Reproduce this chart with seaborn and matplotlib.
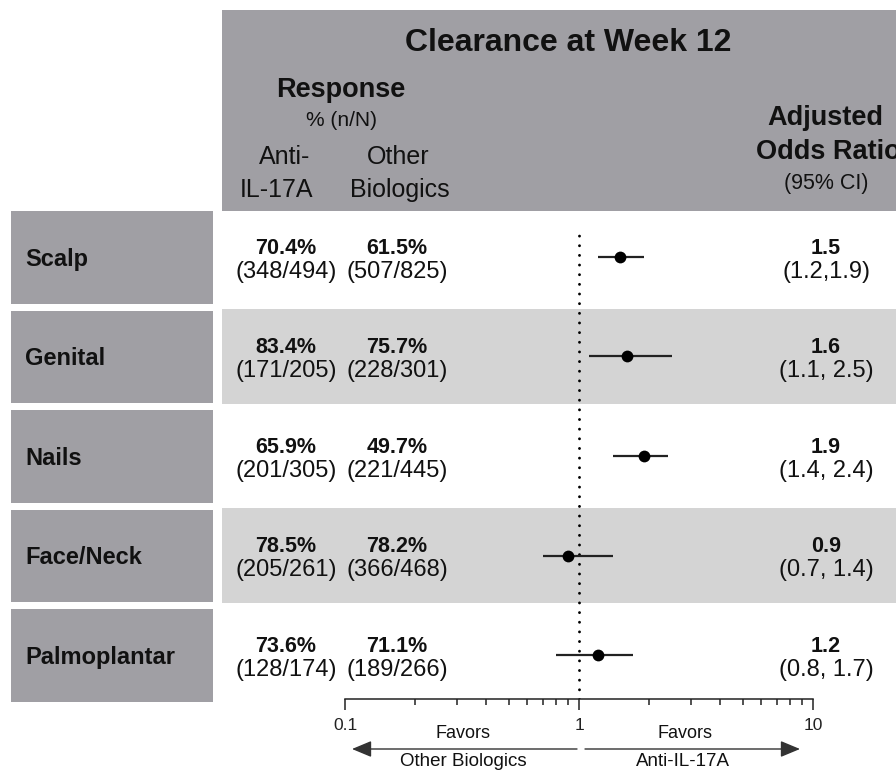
import numpy as np
import pandas as pd
import matplotlib
matplotlib.use("Agg")
import matplotlib.pyplot as plt
import matplotlib.transforms as mtransforms
from matplotlib.patches import Rectangle
from matplotlib.ticker import LogLocator, NullFormatter, FixedLocator, FixedFormatter
import seaborn as sns

# ---- data -------------------------------------------------------------
regions = ["Scalp", "Genital", "Nails", "Face/Neck", "Palmoplantar"]
anti_pct = [70.4, 83.4, 65.9, 78.5, 73.6]
anti_n = [348, 171, 201, 205, 128]
anti_N = [494, 205, 305, 261, 174]
other_pct = [61.5, 75.7, 49.7, 78.2, 71.1]
other_n = [507, 228, 221, 366, 189]
other_N = [825, 301, 445, 468, 266]
odds_ratio = [1.5, 1.6, 1.9, 0.9, 1.2]
ci_low = [1.2, 1.1, 1.4, 0.7, 0.8]
ci_high = [1.9, 2.5, 2.4, 1.4, 1.7]
ci_sep = [",", ", ", ", ", ", ", ", "]
axis_ticks = [0.1, 1, 10]
axis_ticklabels = ["0.1", "1", "10"]

df = pd.DataFrame({
    "region": regions,
    "row": np.arange(len(regions)),
    "odds_ratio": odds_ratio,
    "ci_low": ci_low,
    "ci_high": ci_high,
})

# ---- style ------------------------------------------------------------
sns.set_style("white")
plt.rcParams["font.family"] = ["Liberation Sans", "DejaVu Sans"]

HEADER = "#a09fa4"
BAND = "#d4d4d4"
INK = "#111111"

W, H = 896, 773
fig = plt.figure(figsize=(W / 100, H / 100), dpi=100)
fig.patch.set_facecolor("white")


def fx(px):
    return px / W


def fy(py):
    return 1 - py / H


# ---- forest axes --------------------------------------------------------
ax_left, ax_right, ax_top, ax_bottom = 345, 813, 212, 699
ax = fig.add_axes([fx(ax_left), fy(ax_bottom),
                   (ax_right - ax_left) / W, (ax_bottom - ax_top) / H])
ax.set_facecolor("none")
ax.set_xscale("log")
ax.set_xlim(0.1, 10)
ax.set_ylim(4.442, -0.452)

# x in figure fraction, y in row units of the forest axes
rt = mtransforms.blended_transform_factory(fig.transFigure, ax.transData)

# header block
fig.add_artist(Rectangle((fx(222), fy(211)), 1.0, (211 - 10) / H,
                         transform=fig.transFigure, facecolor=HEADER,
                         edgecolor="none", zorder=-10))

# alternating row bands and region label boxes
for i in df["row"]:
    if i % 2 == 1:
        fig.add_artist(Rectangle((fx(222), i - 0.48), 1.0, 0.96, transform=rt,
                                 facecolor=BAND, edgecolor="none", zorder=-10))
    fig.add_artist(Rectangle((fx(11), i - 0.46), (213 - 11) / W, 0.93, transform=rt,
                             facecolor=HEADER, edgecolor="none", zorder=-10))
    fig.text(fx(25), i + 0.025, regions[i], transform=rt, ha="left", va="center",
             fontsize=17, fontweight="bold", color=INK)

# reference line at OR = 1
ax.axvline(1, ymin=0.0, ymax=0.967, color="black", lw=2.1,
           linestyle=(0, (0.01, 3.3)), dash_capstyle="round", zorder=2)

# confidence intervals and point estimates
ax.hlines(df["row"], df["ci_low"], df["ci_high"], color="#222222", lw=1.6, zorder=3)
sns.scatterplot(data=df, x="odds_ratio", y="row", ax=ax, color="black", s=72,
                linewidth=0, zorder=4, legend=False)

ax.set_xlabel("")
ax.set_ylabel("")
ax.set_yticks([])
sns.despine(ax=ax, left=True, top=True, right=True)
ax.spines["bottom"].set_linewidth(1.1)
ax.spines["bottom"].set_color("#222222")
ax.xaxis.set_major_locator(FixedLocator(axis_ticks))
ax.xaxis.set_major_formatter(FixedFormatter(axis_ticklabels))
ax.xaxis.set_minor_locator(LogLocator(base=10, subs=np.arange(2, 10)))
ax.xaxis.set_minor_formatter(NullFormatter())
ax.tick_params(axis="x", which="both", bottom=True, direction="out",
               color="#222222", width=1.1)
ax.tick_params(axis="x", which="major", length=8, pad=6, labelsize=12.5,
               labelcolor="#222222")
ax.tick_params(axis="x", which="minor", length=4.5)

# favour arrows below the axis
arrow_kw = dict(arrowstyle="-|>,head_length=0.6,head_width=0.25",
                mutation_scale=20, color="#333333", lw=1.0, shrinkA=0, shrinkB=0)
ax.annotate("", xy=(fx(352), fy(749)), xytext=(fx(577), fy(749)),
            xycoords="figure fraction", textcoords="figure fraction",
            arrowprops=arrow_kw, annotation_clip=False)
ax.annotate("", xy=(fx(800), fy(749)), xytext=(fx(585), fy(749)),
            xycoords="figure fraction", textcoords="figure fraction",
            arrowprops=arrow_kw, annotation_clip=False)
fig.text(fx(463), fy(733), "Favors", ha="center", va="center", fontsize=13, color=INK)
fig.text(fx(463), fy(762), "Other Biologics", ha="center", va="center", fontsize=13.5, color=INK)
fig.text(fx(685), fy(733), "Favors", ha="center", va="center", fontsize=13, color=INK)
fig.text(fx(683), fy(762), "Anti-IL-17A", ha="center", va="center", fontsize=13.5, color=INK)

# ---- header text --------------------------------------------------------
fig.text(fx(568), fy(43), "Clearance at Week 12", ha="center", va="center",
         fontsize=23, fontweight="bold", color=INK)
fig.text(fx(341), fy(90), "Response", ha="center", va="center",
         fontsize=19.5, fontweight="bold", color=INK)
fig.text(fx(341), fy(120), "% (n/N)", ha="center", va="center", fontsize=15, color=INK)
fig.text(fx(285), fy(157), "Anti-", ha="center", va="center", fontsize=18, color=INK)
fig.text(fx(277), fy(190), "IL-17A", ha="center", va="center", fontsize=18, color=INK)
fig.text(fx(398), fy(157), "Other", ha="center", va="center", fontsize=18, color=INK)
fig.text(fx(400), fy(190), "Biologics", ha="center", va="center", fontsize=18, color=INK)
fig.text(fx(825), fy(118), "Adjusted", ha="center", va="center",
         fontsize=19.5, fontweight="bold", color=INK)
fig.text(fx(828), fy(152), "Odds Ratio", ha="center", va="center",
         fontsize=19.5, fontweight="bold", color=INK)
fig.text(fx(826), fy(183), "(95% CI)", ha="center", va="center", fontsize=15.5, color=INK)

# ---- table values per row ----------------------------------------------
for i in df["row"]:
    fig.text(fx(286), i - 0.09, f"{anti_pct[i]:.1f}%", transform=rt, ha="center",
             va="center", fontsize=15.5, fontweight="bold", color=INK)
    fig.text(fx(286), i + 0.15, f"({anti_n[i]}/{anti_N[i]})", transform=rt,
             ha="center", va="center", fontsize=17, color=INK)
    fig.text(fx(397), i - 0.09, f"{other_pct[i]:.1f}%", transform=rt, ha="center",
             va="center", fontsize=15.5, fontweight="bold", color=INK)
    fig.text(fx(397), i + 0.15, f"({other_n[i]}/{other_N[i]})", transform=rt,
             ha="center", va="center", fontsize=17, color=INK)
    fig.text(fx(826), i - 0.09, f"{odds_ratio[i]:.1f}", transform=rt, ha="center",
             va="center", fontsize=15.5, fontweight="bold", color=INK)
    fig.text(fx(826), i + 0.15, f"({ci_low[i]:.1f}{ci_sep[i]}{ci_high[i]:.1f})",
             transform=rt, ha="center", va="center", fontsize=17, color=INK)

fig.savefig("out.png", dpi=100)
